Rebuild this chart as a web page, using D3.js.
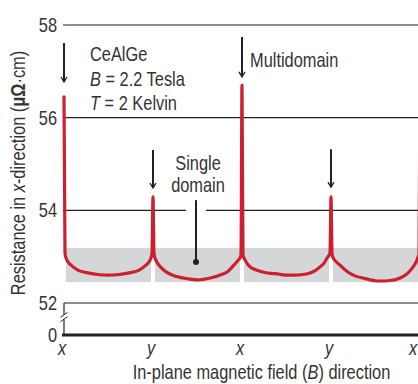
<!DOCTYPE html>
<html><head><meta charset="utf-8">
<script src="https://cdn.jsdelivr.net/npm/d3@7"></script>
<style>
html,body{margin:0;padding:0;background:#fff;}
svg text{font-family:"Liberation Sans",Arial,sans-serif;fill:#333;}
</style></head><body>
<svg id="c" width="418" height="384"></svg>
<script>
// ---- data ----
const angles = [0,1,1.5,4,8,14,24,36,45,54,66,76,82,86,88.5,89,
  90,91,91.5,94,98,104,114,126,135,148,160,165,171,176,178.5,179,
  180,181,181.5,183,188,201,218,225,232,240,249,254,259,263,266,268.5,269,
  270,271,271.5,274,279,287,295,302,315,320,328,340,348,353,356,358,359,360];
const resistance = [56.45,53.08,53.01,52.89,52.80,52.71,52.65,52.61,52.60,52.61,52.65,52.71,52.80,52.89,53.01,53.08,
  54.29,53.08,53.01,52.88,52.77,52.66,52.57,52.52,52.50,52.54,52.62,52.67,52.80,52.92,53.0,53.05,
  56.70,53.05,53.0,52.93,52.78,52.67,52.62,52.60,52.60,52.61,52.65,52.70,52.78,52.86,52.97,53.05,53.08,
  54.29,53.08,53.01,52.92,52.82,52.67,52.58,52.54,52.48,52.475,52.48,52.54,52.65,52.78,52.88,52.99,53.05,56.6];
const tickAngles = [0,90,180,270,360];
const tickLabels = ["x","y","x","y","x"];
const gridValues = [54,56,58];
const yTickValues = [52,54,56,58];
const bandStart = [2,92,182,272];
const bandEnd = [88,178,268,358];
const bandLow = 52.45, bandHigh = 53.19;
const arrowAngles = [0,90,180,270];
const arrowFrom = [57.61,55.30,57.74,55.32];
const arrowTo = [56.77,54.48,56.88,54.50];
const pointerAngle = 133.5, pointerFrom = 54.22, pointerTo = 52.885;

// ---- scales ----
const svg = d3.select("#c");
const x = d3.scaleLinear().domain([0,360]).range([64,420]);
const y = d3.scaleLinear().domain([52,58]).range([303,25]);
const yLow = d3.scaleLinear().domain([0,52]).range([335,303]);
const red = "#cc2030", ink = "#222";
const SX = 0.82, FS = 20;

function label(px, py, segs, anchor, extra) {
  const g = svg.append("g").attr("transform", `translate(${px},${py})${extra||""} scale(${SX},1)`);
  const t = g.append("text").attr("font-size", FS).attr("text-anchor", anchor || "start");
  segs.forEach(s => {
    const sp = t.append("tspan").text(s[0]);
    if (s[1] === "i") sp.attr("font-style", "italic");
    if (s[1] === "b") sp.attr("font-weight", "bold");
  });
  return t;
}

// gray bands
svg.selectAll("rect.band").data(bandStart).join("rect").attr("class","band")
  .attr("x",(d)=>x(d)).attr("width",(d,i)=>x(bandEnd[i])-x(d))
  .attr("y",y(bandHigh)).attr("height",y(bandLow)-y(bandHigh)).attr("fill","#d5d6d8");

// gridlines
svg.selectAll("line.grid").data(gridValues).join("line").attr("class","grid")
  .attr("x1",63).attr("x2",418).attr("y1",d=>y(d)).attr("y2",d=>y(d))
  .attr("stroke",ink).attr("stroke-width",1.2);
svg.append("line").attr("x1",x(0)).attr("x2",418).attr("y1",y(52)).attr("y2",y(52)).attr("stroke",ink).attr("stroke-width",1.2);
svg.append("line").attr("x1",x(0)-2).attr("x2",418).attr("y1",yLow(0)).attr("y2",yLow(0)).attr("stroke",ink).attr("stroke-width",3.2);
svg.append("line").attr("x1",x(0)).attr("x2",x(0)).attr("y1",y(52)).attr("y2",yLow(0)).attr("stroke",ink).attr("stroke-width",1.2);
const by = (y(52)+yLow(0))/2 - 2;
svg.append("rect").attr("x",x(0)-4).attr("y",by-2.5).attr("width",8).attr("height",5).attr("fill","#fff");
[-2.2,2.2].forEach(o=>{
  svg.append("line").attr("x1",x(0)-3.5).attr("y1",by+o+2.5).attr("x2",x(0)+3.5).attr("y2",by+o-2.5)
    .attr("stroke",ink).attr("stroke-width",1);
});

// y tick labels
yTickValues.forEach(v => label(57, y(v)+7, [[String(v)]], "end"));
label(57, yLow(0)+7, [["0"]], "end");

// x tick labels
tickAngles.forEach((a,i) => label(Math.min(x(a)-2, 413), 355, [[tickLabels[i],"i"]], "middle"));

// pointer halo + pointer
svg.append("line").attr("x1",x(pointerAngle)).attr("x2",x(pointerAngle))
  .attr("y1",y(pointerFrom)).attr("y2",y(53.5)).attr("stroke","#fff").attr("stroke-width",20);
svg.append("line").attr("x1",x(pointerAngle)).attr("x2",x(pointerAngle))
  .attr("y1",y(pointerFrom)).attr("y2",y(pointerTo)).attr("stroke",ink).attr("stroke-width",2);
svg.append("circle").attr("cx",x(pointerAngle)).attr("cy",y(pointerTo)).attr("r",3).attr("fill",ink);

// red curve
const pts = angles.map((a,i)=>[a,resistance[i]]);
svg.append("path").datum(pts)
  .attr("d",d3.line().x(d=>x(d[0])).y(d=>y(d[1])).curve(d3.curveMonotoneX))
  .attr("fill","none").attr("stroke",red).attr("stroke-width",3.2)
  .attr("stroke-linejoin","round").attr("stroke-linecap","round");

// arrows
arrowAngles.forEach((a,i)=>{
  const ax = x(a), y1 = y(arrowFrom[i]), y2 = y(arrowTo[i]);
  svg.append("line").attr("x1",ax).attr("x2",ax).attr("y1",y1).attr("y2",y2-1)
    .attr("stroke",ink).attr("stroke-width",2);
  svg.append("path").attr("d",`M${ax-3},${y2-5}L${ax},${y2}L${ax+3},${y2-5}`)
    .attr("fill","none").attr("stroke",ink).attr("stroke-width",1.3);
});

// annotations
label(90, 61, [["CeAlGe"]]);
label(90, 85.5, [["B","i"],[" = 2.2 Tesla"]]);
label(90, 110, [["T","i"],[" = 2 Kelvin"]]);
label(x(180)+8, 67, [["Multidomain"]]);
label(198, 170, [["Single"]], "middle");
label(198, 192, [["domain"]], "middle");

// axis titles
label(25, 173, [["Resistance in "],["x","i"],["-direction ("],["μΩ","b"],["·cm)"]], "middle", " rotate(-90)");
label(261.5, 379, [["In-plane magnetic field ("],["B","i"],[") direction"]], "middle");
</script>
</body></html>
